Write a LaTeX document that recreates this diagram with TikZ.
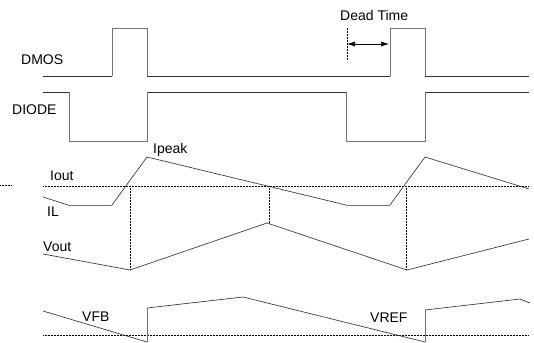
\documentclass[tikz,border=0pt]{standalone}
\usepackage{fontspec}
\setmainfont{Liberation Sans}
\usetikzlibrary{arrows.meta}

\begin{document}
\begin{tikzpicture}[x=1pt,y=-1pt,
  wave/.style={line width=0.65pt,black!80,line join=miter},
  edge/.style={line width=0.65pt,black!55},
  ref/.style={densely dotted,line width=0.5pt},
  lbl/.style={anchor=base west,inner sep=0pt,font=\fontsize{14}{16}\selectfont}]
\useasboundingbox (0,0) rectangle (534,342);

% labels
\node[lbl] (dmos) at (21,65) {DMOS};
\node[lbl] (diode) at (12,114) {DIODE};
\node[lbl] (dead) at (340,21) {Dead Time};
\node[lbl] (ipeak) at (153,153) {Ipeak};
\node[lbl] (iout) at (50,180) {Iout};
\node[lbl] (il) at (47,216) {IL};
\node[lbl] (vout) at (43,251) {Vout};
\node[lbl] (vfb) at (82,321) {VFB};
\node[lbl] (vref) at (370,322) {VREF};

% DMOS
\draw[wave] (43,76) -- (112,76) (147,76) -- (390,76) (425,76) -- (529,76);
\draw[edge] (112,76) -- (112,28) -- (147,28) -- (147,76);
\draw[edge] (390,76) -- (390,28) -- (425,28) -- (425,76);

% DIODE
\draw[wave] (43,92) -- (69,92) (147,92) -- (346,92) (425,92) -- (529,92);
\draw[edge] (69,92) -- (69,141) -- (147,141) -- (147,92);
\draw[edge] (346,92) -- (346,141) -- (425,141) -- (425,92);

% dead time
\coordinate (dt1) at (347,44);
\coordinate (dt2) at (389,44);
\draw[ref] (347,28) -- (347,60);
\draw[line width=0.7pt,{Latex[length=8pt,width=5pt]}-{Latex[length=8pt,width=5pt]}] (dt1) -- (dt2);

% IL / Iout
\draw[ref] (0,185) -- (12,185);
\draw[ref] (43,186) -- (529,186);
\draw[wave] (43,197) -- (68,205);
\draw[edge] (68,205) -- (112,205);
\draw[wave] (112,205) -- (147,157) -- (346,205);
\draw[edge] (346,205) -- (390,205);
\draw[wave] (390,205) -- (425,157) -- (529,189);

% Vout
\foreach \x/\y in {130/270,269/223,406/270} {
\draw[ref] (\x,186) -- (\x,\y);
}
\draw[wave] (43,254) -- (130,270) -- (267,223) -- (407,270) -- (529,239);

% VFB / VREF
\draw[ref] (43,335) -- (529,335);
\draw[wave] (43,311) -- (147,342);
\draw[edge] (147,342) -- (147,308);
\draw[wave] (147,308) -- (243,297) -- (425,342);
\draw[edge] (425,342) -- (425,310);
\draw[wave] (425,310) -- (520,299) -- (530,303);
\end{tikzpicture}
\end{document}
